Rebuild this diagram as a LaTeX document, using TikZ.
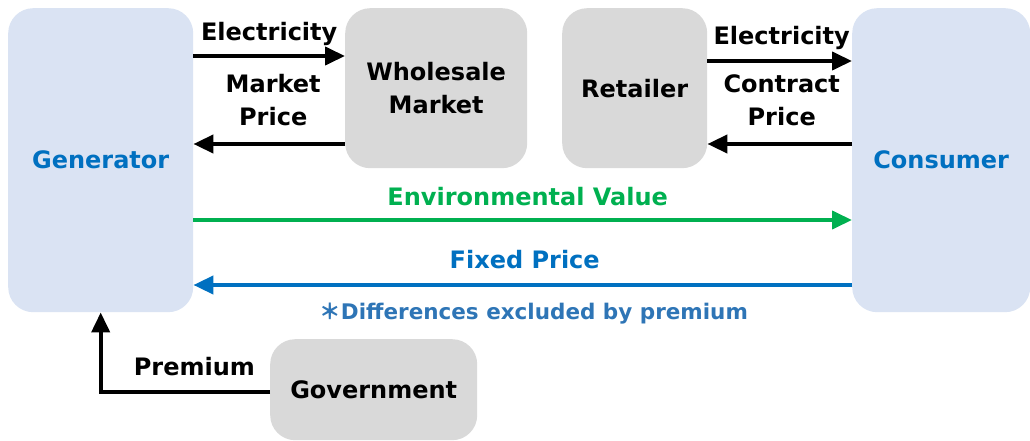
\documentclass[tikz,border=0pt]{standalone}
\usepackage{fontspec}
\setmainfont{DejaVu Sans}
\newfontfamily\cjk{Noto Sans CJK JP}
\usetikzlibrary{arrows.meta}
\definecolor{boxblue}{HTML}{DAE3F3}
\definecolor{boxgray}{HTML}{D9D9D9}
\definecolor{txtblue}{HTML}{0070C0}
\definecolor{notblue}{HTML}{2E75B6}
\definecolor{envgreen}{HTML}{00B050}
\begin{document}
\begin{tikzpicture}[x=1pt,y=-1pt,
  box/.style={rounded corners=25pt, inner sep=0pt, anchor=north west, align=center,
    font=\fontsize{24}{33}\selectfont\bfseries},
  bluebox/.style={box, fill=boxblue, text=txtblue},
  graybox/.style={box, fill=boxgray, text=black},
  arr/.style={line width=4pt, -{Triangle[length=20pt,width=18pt]}},
  lbl/.style={inner sep=0pt, align=center, font=\fontsize{24}{33}\selectfont\bfseries},
  note/.style={inner sep=0pt, font=\fontsize{21.5}{26}\selectfont\bfseries, text=notblue}
]
\useasboundingbox (0,0) rectangle (1030,441);
\node[bluebox, minimum width=185pt, minimum height=304pt] (gen) at (8,8) {Generator};
\node[bluebox, minimum width=178pt, minimum height=304pt] (con) at (852,8) {Consumer};
\node[graybox, minimum width=182pt, minimum height=160pt] (whs) at (345,8) {Wholesale\\Market};
\node[graybox, minimum width=145pt, minimum height=160pt] (ret) at (562,8) {Retailer};
\node[graybox, minimum width=207pt, minimum height=101pt] (gov) at (270,339) {Government};

\coordinate (yA) at (0,56);
\coordinate (yB) at (0,144);
\coordinate (yC) at (0,61);
\coordinate (yD) at (0,220);
\coordinate (yE) at (0,285);
\coordinate (yF) at (0,392);

\draw[arr] (gen.east |- yA) -- node[lbl, anchor=base, yshift=15pt] (l1) {Electricity} (whs.west |- yA);
\draw[arr] (whs.west |- yB) -- node[lbl, anchor=south, yshift=16pt, xshift=4pt] (l2) {Market\\Price} (gen.east |- yB);
\draw[arr] (ret.east |- yC) -- node[lbl, anchor=base, yshift=16pt, xshift=2pt] (l3) {Electricity} (con.west |- yC);
\draw[arr] (con.west |- yB) -- node[lbl, anchor=south, yshift=16pt, xshift=2pt] (l4) {Contract\\Price} (ret.east |- yB);
\draw[arr, envgreen] (gen.east |- yD) -- node[lbl, anchor=base, yshift=15pt, xshift=5pt, text=envgreen] (l5) {Environmental Value} (con.west |- yD);
\draw[arr, txtblue] (con.west |- yE) -- node[lbl, anchor=base, yshift=17pt, xshift=2pt, text=txtblue] (l6) {Fixed Price}
  node[note, anchor=base, yshift=-34pt, xshift=11pt] (l7) {{\cjk ＊}Differences excluded by premium} (gen.east |- yE);
\draw[arr] (gov.west |- yF) -| node[lbl, pos=0.25, anchor=base, yshift=17pt, xshift=9pt] (l8) {Premium} (gen.south);
\end{tikzpicture}
\end{document}
